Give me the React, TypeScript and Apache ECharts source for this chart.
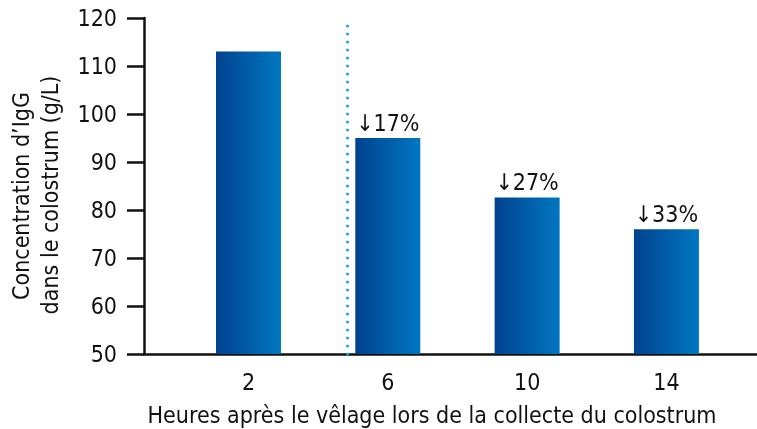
import React, { useEffect, useRef } from "react";
import * as echarts from "echarts";

const hours = [2, 6, 10, 14];
const igg = [113, 95, 82.6, 76];
const drops = ["", "↓17%", "↓27%", "↓33%"];
const yTicks = { min: 50, max: 120, interval: 10 };
const separatorAt = 4.83;
const xTitle = "Heures après le vêlage lors de la collecte du colostrum";
const yTitle1 = "Concentration d’IgG";
const yTitle2 = "dans le colostrum (g/L)";

const FONT = "'Liberation Sans Narrow', 'DejaVu Sans Condensed', Roboto, sans-serif";
const FS = 23;

export default function App() {
  const ref = useRef<HTMLDivElement>(null);
  useEffect(() => {
    if (!ref.current) return;
    const chart = echarts.init(ref.current, null, { renderer: "svg" });
    const data = hours.map((h, i) => [h, igg[i]]);
    chart.setOption({
      animation: false,
      textStyle: { fontFamily: FONT },
      grid: { left: 144, right: 0, top: 18, bottom: 75, containLabel: false },
      xAxis: {
        type: "value",
        min: -1,
        max: 16.6,
        axisLine: { show: true, onZero: false, lineStyle: { color: "#111", width: 2.5 } },
        axisTick: { show: false },
        splitLine: { show: false },
        axisLabel: {
          customValues: hours,
          fontSize: FS,
          color: "#111",
          margin: 16,
          fontFamily: FONT,
        },
      },
      yAxis: {
        type: "value",
        min: yTicks.min,
        max: yTicks.max,
        interval: yTicks.interval,
        axisLine: { show: true, onZero: false, lineStyle: { color: "#111", width: 2.5 } },
        axisTick: { show: true, inside: false, length: 17, lineStyle: { color: "#111", width: 2.5 } },
        splitLine: { show: false },
        axisLabel: { fontSize: FS, color: "#111", margin: 27, fontFamily: FONT },
      },
      graphic: [
        {
          type: "text",
          x: 432,
          y: 415,
          style: {
            text: xTitle,
            fontSize: FS,
            fill: "#111",
            fontFamily: FONT,
            align: "center",
            verticalAlign: "middle",
          },
        },
        {
          type: "text",
          x: 21,
          y: 196,
          rotation: Math.PI / 2,
          style: {
            text: yTitle1,
            fontSize: FS,
            fill: "#111",
            fontFamily: FONT,
            align: "center",
            verticalAlign: "middle",
          },
        },
        {
          type: "text",
          x: 50,
          y: 195,
          rotation: Math.PI / 2,
          style: {
            text: yTitle2,
            fontSize: FS,
            fill: "#111",
            fontFamily: FONT,
            align: "center",
            verticalAlign: "middle",
          },
        },
      ],
      series: [
        {
          type: "bar",
          data,
          barWidth: 65,
          itemStyle: {
            color: new echarts.graphic.LinearGradient(0, 0, 1, 0, [
              { offset: 0, color: "#00428f" },
              { offset: 1, color: "#0077c1" },
            ]),
          },
          label: {
            show: true,
            position: "top",
            distance: 4,
            fontSize: FS,
            color: "#111",
            fontFamily: FONT,
            formatter: (p: any) => drops[p.dataIndex],
          },
          markLine: {
            silent: true,
            symbol: "none",
            label: { show: false },
            lineStyle: { color: "#1ea6e6", width: 3, type: [0, 8], cap: "round" },
            data: [{ xAxis: separatorAt }],
          },
        },
      ],
    });
    return () => chart.dispose();
  }, []);
  return (
    <div
      ref={ref}
      style={{ position: "fixed", left: 0, top: 0, width: 757, height: 429 }}
    />
  );
}
